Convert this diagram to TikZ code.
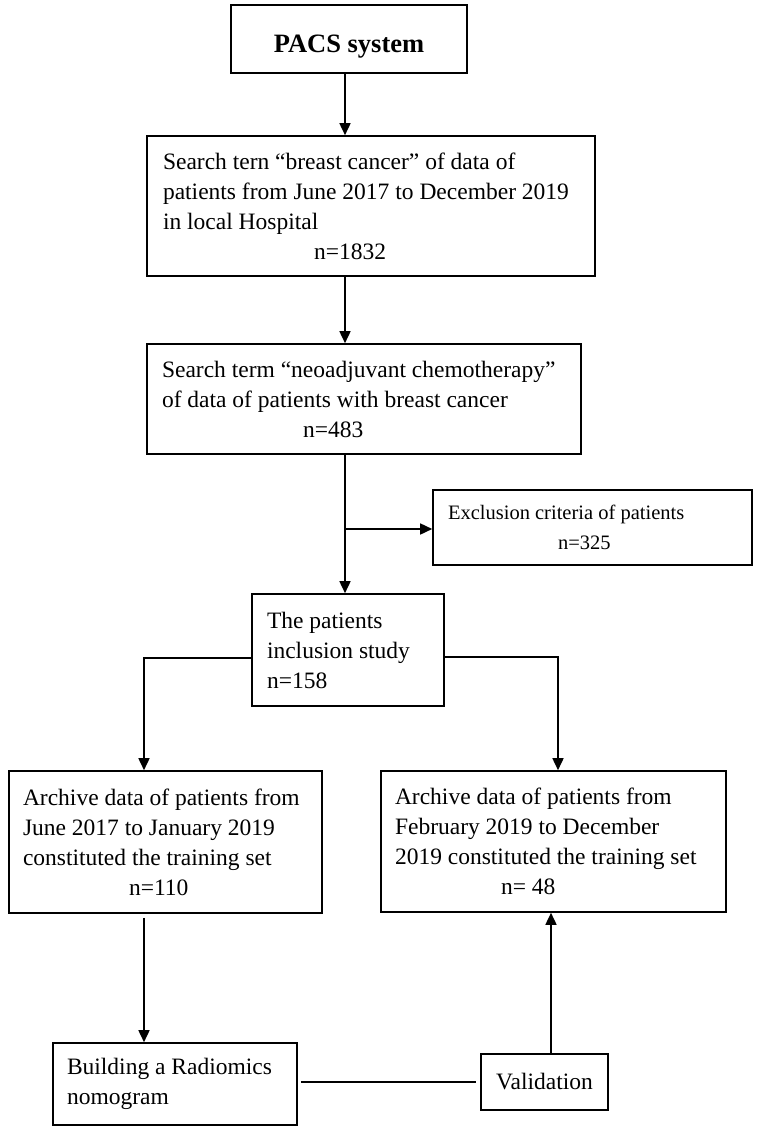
\documentclass[tikz,border=0pt]{standalone}
\usepackage{fontspec}
\setmainfont{Liberation Serif}
\usetikzlibrary{arrows.meta}

\begin{document}
\begin{tikzpicture}[x=1pt, y=-1pt,
  box/.style={draw, line width=1.6pt, align=flush left, inner ysep=0pt, font=\fontsize{23.5}{30}\selectfont},
  arr/.style={line width=1.6pt, -{Triangle[length=12pt,width=11pt]}}]
\useasboundingbox (0,0) rectangle (756,1131);
% boxes
\node[box, align=center, minimum width=236pt, minimum height=68pt, text height=28pt, text depth=0pt, font=\bfseries\fontsize{26.5}{30}\selectfont] (pacs) at (349,39) {PACS system};
\node[box, minimum height=140pt, inner xsep=16pt, text width=416pt] (search) at (371,206)
  {Search tern “breast cancer” of data of\\ patients from June 2017 to December 2019\\ in local Hospital\\ \hspace*{151pt}n=1832};
\node[box, minimum height=110pt, inner xsep=15pt, text width=404pt] (neo) at (364,399)
  {Search term “neoadjuvant chemotherapy”\\ of data of patients with breast cancer\\ \hspace*{141pt}n=483};
\node[box, minimum height=75pt, inner xsep=15pt, text width=289pt, font=\fontsize{20.5}{30}\selectfont] (excl) at (592.5,527.5)
  {Exclusion criteria of patients\\ \hspace*{110pt}n=325};
\node[box, minimum height=112pt, inner xsep=15pt, text width=162pt] (incl) at (348,650)
  {The patients\\ inclusion study\\ n=158};
\node[box, minimum height=142pt, inner xsep=14pt, text width=285pt] (train) at (165.5,842)
  {Archive data of patients from\\ June 2017 to January 2019\\ constituted the training set\\ \hspace*{106pt}n=110};
\node[box, minimum height=141pt, inner xsep=14pt, text width=317pt] (test) at (553.5,841.5)
  {Archive data of patients from\\ February 2019 to December\\ 2019 constituted the training set\\ \hspace*{106pt}n= 48};
\node[box, minimum height=82pt, inner xsep=14pt, text width=216pt] (nomo) at (175,1084)
  {Building a Radiomics\\ nomogram};
\node[box, align=center, minimum width=127pt, minimum height=56pt, inner xsep=0pt] (valid) at (544.5,1082) {Validation};
% turning points
\coordinate (trunk) at (345,529);
\coordinate (lturn) at (144,658);
\coordinate (rturn) at (558,657);
% connectors
\draw[arr] (pacs.south -| trunk) -- (trunk |- search.north);
\draw[arr] (search.south -| trunk) -- (trunk |- neo.north);
\draw[arr] (neo.south -| trunk) -- (trunk |- incl.north);
\draw[arr] (trunk) -- (trunk -| excl.west);
\draw[arr] (incl.west |- lturn) -- (lturn) -- (lturn |- train.north);
\draw[arr] (incl.east |- rturn) -- (rturn) -- (rturn |- test.north);
\draw[arr, shorten <=4pt] (lturn |- train.south) -- (lturn |- nomo.north);
\draw[line width=1.6pt, shorten <=3pt, shorten >=4pt] (valid.west -| nomo.east) -- (valid.west);
\draw[arr] ([xshift=6.5pt]valid.north) -- ([xshift=6.5pt]valid.north |- test.south);
\end{tikzpicture}
\end{document}
